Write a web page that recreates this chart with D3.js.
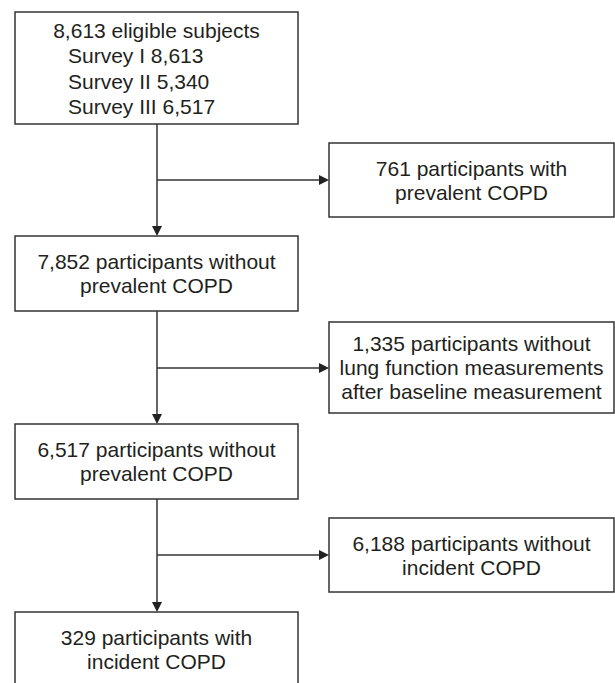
<!DOCTYPE html>
<html>
<head>
<meta charset="utf-8">
<script src="https://cdn.jsdelivr.net/npm/d3@7"></script>
<style>
  html, body { margin: 0; padding: 0; background: #fff; }
  svg { display: block; }
  text { font-family: "Liberation Sans", Arial, Helvetica, sans-serif; fill: #231f20; }
</style>
</head>
<body>
<svg id="chart" width="615" height="683"></svg>
<script>
// ---- data (text content of the flowchart) ----
const mainTitle = "8,613 eligible subjects";
const surveys = ["Survey I", "Survey II", "Survey III"];
const surveyCounts = ["8,613", "5,340", "6,517"];
const mainBoxes = [
  ["7,852 participants without", "prevalent COPD"],
  ["6,517 participants without", "prevalent COPD"],
  ["329 participants with", "incident COPD"]
];
const sideBoxes = [
  ["761 participants with", "prevalent COPD"],
  ["1,335 participants without", "lung function measurements", "after baseline measurement"],
  ["6,188 participants without", "incident COPD"]
];

// ---- layout ----
const svg = d3.select("#chart");
const stroke = "#333";
const fs = 21, sx = 1.0, lh = 24;
const L = { x0: 15, x1: 298 };
const R = { x0: 329, x1: 614 };
const cx = 157;
const mainY = [[12, 124], [236, 311], [424, 499], [612, 687]];
const sideY = [[143, 217], [322, 413], [518, 592]];
const branchY = [180, 368, 555];

function box(x0, y0, x1, y1) {
  svg.append("rect")
    .attr("x", x0).attr("y", y0)
    .attr("width", x1 - x0).attr("height", y1 - y0)
    .attr("fill", "#fff").attr("stroke", stroke).attr("stroke-width", 1.5);
}
function textLine(x, y, s, anchor) {
  svg.append("g").attr("transform", `translate(${x},${y}) scale(${sx},1)`)
    .append("text").attr("x", 0).attr("y", 0)
    .attr("font-size", fs).attr("text-anchor", anchor || "middle")
    .text(s);
}
function centeredLines(x0, x1, y0, y1, lines) {
  const mx = (x0 + x1) / 2;
  const my = (y0 + y1) / 2;
  const n = lines.length;
  const first = my - (n - 1) * lh / 2 + fs * 0.36;
  lines.forEach((s, i) => textLine(mx, first + i * lh, s));
}

// connectors
const vLines = [[mainY[0][1], mainY[1][0]], [mainY[1][1], mainY[2][0]], [mainY[2][1], mainY[3][0]]];
const lineGen = d3.line();
vLines.forEach(([a, b]) => {
  svg.append("path").attr("d", lineGen([[cx, a], [cx, b - 10]]))
    .attr("stroke", stroke).attr("stroke-width", 1.5).attr("fill", "none");
  svg.append("path").attr("d", lineGen([[cx - 5, b - 10], [cx + 5, b - 10], [cx, b]]) + "Z")
    .attr("fill", "#222");
});
branchY.forEach(y => {
  svg.append("path").attr("d", lineGen([[cx, y], [R.x0 - 10, y]]))
    .attr("stroke", stroke).attr("stroke-width", 1.5).attr("fill", "none");
  svg.append("path").attr("d", lineGen([[R.x0 - 10, y - 5], [R.x0 - 10, y + 5], [R.x0, y]]) + "Z")
    .attr("fill", "#222");
});

// top box
box(L.x0, mainY[0][0], L.x1, mainY[0][1]);
textLine((L.x0 + L.x1) / 2, 37.5, mainTitle);
surveys.forEach((s, i) => textLine(68, 63 + i * 25.5, s + " " + surveyCounts[i], "start"));

// main boxes
mainBoxes.forEach((lines, i) => {
  const [y0, y1] = mainY[i + 1];
  box(L.x0, y0, L.x1, y1);
  centeredLines(L.x0, L.x1, y0, y1, lines);
});
// side boxes
sideBoxes.forEach((lines, i) => {
  const [y0, y1] = sideY[i];
  box(R.x0, y0, R.x1, y1);
  centeredLines(R.x0, R.x1, y0, y1, lines);
});
</script>
</body>
</html>
